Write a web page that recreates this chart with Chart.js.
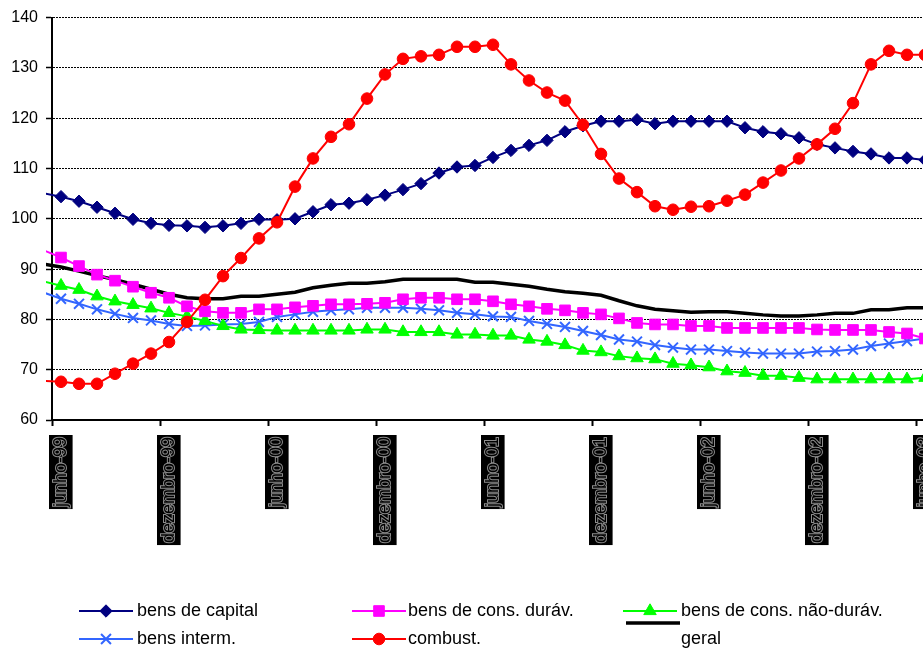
<!DOCTYPE html>
<html>
<head>
<meta charset="utf-8">
<script src="https://cdn.jsdelivr.net/npm/chart.js@4/dist/chart.umd.min.js"></script>
<style>
  html, body { margin: 0; padding: 0; overflow: hidden; background: #fff; }
  canvas { display: block; }
</style>
</head>
<body>
<canvas id="chart" width="961" height="649"></canvas>
<script>
// Monthly index series, maio-99 .. junho-03
const tickLabels = ['junho-99', 'dezembro-99', 'junho-00', 'dezembro-00', 'junho-01',
                    'dezembro-01', 'junho-02', 'dezembro-02', 'junho-03'];

const capital = [105.1, 104.4, 103.5, 102.3, 101.1, 99.9, 99.1, 98.7, 98.6, 98.3,
                 98.6, 99.1, 99.9, 99.8, 100.0, 101.4, 102.8, 103.1, 103.8, 104.7,
                 105.8, 107.0, 109.1, 110.3, 110.6, 112.2, 113.6, 114.6, 115.6, 117.3,
                 118.5, 119.4, 119.4, 119.7, 118.9, 119.4, 119.4, 119.4, 119.4, 118.1,
                 117.3, 116.9, 116.1, 114.8, 114.1, 113.4, 112.9, 112.1, 112.1, 111.7];

const duravel = [93.8, 92.3, 90.6, 88.9, 87.7, 86.5, 85.3, 84.3, 82.6, 81.6,
                 81.3, 81.3, 82.0, 82.0, 82.4, 82.7, 83.0, 83.0, 83.1, 83.3,
                 84.0, 84.3, 84.3, 84.0, 84.0, 83.6, 83.0, 82.6, 82.1, 81.8,
                 81.3, 81.0, 80.2, 79.3, 79.0, 79.0, 78.7, 78.7, 78.3, 78.3,
                 78.3, 78.3, 78.3, 78.0, 77.9, 77.9, 77.9, 77.5, 77.2, 76.2];

const naoDuravel = [87.6, 86.7, 85.9, 84.6, 83.6, 82.9, 82.2, 81.3, 80.6, 79.7,
                    78.7, 78.0, 77.9, 77.8, 77.8, 77.8, 77.8, 77.8, 78.0, 78.0,
                    77.5, 77.5, 77.5, 77.0, 77.0, 76.8, 76.8, 76.0, 75.6, 74.9,
                    73.8, 73.5, 72.7, 72.3, 72.1, 71.2, 70.9, 70.5, 69.7, 69.4,
                    68.8, 68.8, 68.4, 68.1, 68.1, 68.1, 68.1, 68.1, 68.1, 68.4];

const interm = [85.4, 84.1, 83.1, 82.0, 81.1, 80.3, 79.8, 79.1, 78.7, 78.8,
                79.0, 79.1, 79.5, 80.5, 81.0, 81.5, 81.8, 82.0, 82.3, 82.3,
                82.3, 82.1, 81.8, 81.3, 81.0, 80.6, 80.5, 79.7, 79.1, 78.5,
                77.7, 76.9, 76.0, 75.6, 74.9, 74.4, 74.0, 74.0, 73.7, 73.4,
                73.2, 73.2, 73.2, 73.6, 73.7, 74.0, 74.7, 75.2, 75.7, 76.2];

const combust = [67.8, 67.6, 67.2, 67.2, 69.2, 71.2, 73.2, 75.5, 79.5, 83.9,
                 88.6, 92.2, 96.1, 99.3, 106.4, 112.0, 116.3, 118.8, 123.9, 128.7,
                 131.8, 132.3, 132.6, 134.2, 134.2, 134.6, 130.7, 127.5, 125.1, 123.5,
                 118.7, 112.9, 108.0, 105.3, 102.5, 101.8, 102.4, 102.5, 103.6, 104.8,
                 107.2, 109.6, 112.0, 114.8, 117.9, 123.0, 130.7, 133.4, 132.6, 132.6];

const geral = [91.0, 90.4, 89.6, 88.7, 87.9, 87.0, 86.0, 85.0, 84.3, 84.1,
               84.1, 84.6, 84.6, 85.0, 85.4, 86.3, 86.8, 87.2, 87.2, 87.5,
               88.0, 88.0, 88.0, 88.0, 87.4, 87.4, 87.0, 86.6, 86.0, 85.5,
               85.2, 84.8, 83.7, 82.7, 82.0, 81.7, 81.4, 81.5, 81.5, 81.2,
               80.9, 80.7, 80.7, 80.9, 81.2, 81.2, 81.9, 81.9, 82.3, 82.3];

// month k sits in the middle of its slot; junho-99 tick is at 0
const toPoints = arr => arr.map((v, k) => ({ x: k - 0.5, y: v }));
const FONT = "'Liberation Sans', Arial, sans-serif";

function series(label, values, color, style, radius, lineWidth, markerBorder) {
  return {
    label,
    data: toPoints(values),
    borderColor: color,
    backgroundColor: color,
    borderWidth: lineWidth,
    pointStyle: style || false,
    markerRadius: radius,
    pointRadius: c => (style && c.raw && c.raw.x >= 0) ? radius : 0,
    pointHoverRadius: c => (style && c.raw && c.raw.x >= 0) ? radius : 0,
    pointBackgroundColor: color,
    pointBorderColor: color,
    pointBorderWidth: markerBorder,
    tension: 0,
    clip: { left: 6, top: 20, right: 0, bottom: 20 }
  };
}

const datasets = [
  series('combust.', combust, '#ff0000', 'circle', 5.8, 2, 1),
  series('bens de capital', capital, '#000080', 'rectRot', 6.2, 2, 1),
  series('bens de cons. duráv.', duravel, '#ff00ff', 'rect', 7.5, 2, 1),
  series('bens de cons. não-duráv.', naoDuravel, '#00ff00', 'triangle', 7.2, 2, 1),
  series('bens interm.', interm, '#3366ff', 'crossRot', 7, 2, 2),
  series('geral', geral, '#000000', null, 0, 3.5, 0)
];

// bottom legend, two rows of three entries
const legendSlots = [
  { label: 'bens de capital',          x: 79,  lineY: 611, textX: 137, textY: 611 },
  { label: 'bens de cons. duráv.',     x: 352, lineY: 611, textX: 408, textY: 611 },
  { label: 'bens de cons. não-duráv.', x: 623, lineY: 611, textX: 681, textY: 611 },
  { label: 'bens interm.',             x: 79,  lineY: 639, textX: 137, textY: 639 },
  { label: 'combust.',                 x: 352, lineY: 639, textX: 408, textY: 639 },
  { label: 'geral',                    x: 626, lineY: 623, textX: 681, textY: 639 }
];

const bottomLegend = {
  id: 'bottomLegend',
  afterDraw(chart) {
    const ctx = chart.ctx;
    ctx.save();
    legendSlots.forEach(slot => {
      const ds = chart.data.datasets.find(d => d.label === slot.label);
      const len = 54;
      ctx.setLineDash([]);
      ctx.strokeStyle = ds.borderColor;
      ctx.lineWidth = ds.borderWidth;
      ctx.beginPath();
      ctx.moveTo(slot.x, slot.lineY);
      ctx.lineTo(slot.x + len, slot.lineY);
      ctx.stroke();
      if (ds.pointStyle) {
        ctx.fillStyle = ds.pointBackgroundColor;
        ctx.strokeStyle = ds.pointBorderColor;
        ctx.lineWidth = ds.pointBorderWidth;
        Chart.helpers.drawPoint(ctx, {
          pointStyle: ds.pointStyle, radius: ds.markerRadius, rotation: 0,
          borderWidth: ds.pointBorderWidth
        }, slot.x + len / 2, slot.lineY);
      }
      ctx.fillStyle = '#000';
      ctx.font = '18px ' + FONT;
      ctx.textBaseline = 'middle';
      ctx.textAlign = 'left';
      ctx.fillText(ds.label, slot.textX, slot.textY);
    });
    ctx.restore();
  }
};

new Chart(document.getElementById('chart'), {
  type: 'line',
  data: { datasets },
  options: {
    responsive: false,
    animation: false,
    events: [],
    layout: { padding: { top: 16, left: 0, right: 0, bottom: 0 } },
    plugins: { legend: { display: false }, tooltip: { enabled: false } },
    scales: {
      x: {
        type: 'linear',
        min: 0,
        max: 50,
        afterFit: s => { s.height = 229; },
        afterBuildTicks: s => { s.ticks = tickLabels.map((_, k) => ({ value: k * 6 })); },
        border: { display: true, color: '#000', width: 2 },
        grid: { drawOnChartArea: false, drawTicks: true, tickLength: 6, tickColor: '#000', tickWidth: 2 },
        ticks: {
          autoSkip: false,
          minRotation: 90,
          maxRotation: 90,
          padding: 11,
          labelOffset: -2,
          callback: v => tickLabels[Math.round(v / 6)] || '',
          font: { family: FONT, size: 18 },
          color: '#000',
          textStrokeColor: '#8c8c8c',
          textStrokeWidth: 2,
          showLabelBackdrop: true,
          backdropColor: '#000',
          backdropPadding: { top: 1, bottom: 1, left: 2, right: 2 }
        }
      },
      y: {
        min: 60,
        max: 140,
        afterFit: s => { s.width = 52; },
        ticks: { stepSize: 10, padding: 8, color: '#000', font: { family: FONT, size: 16 } },
        grid: { color: '#000', lineWidth: 1, tickLength: 6, tickColor: '#000', tickWidth: 1.5, tickBorderDash: [] },
        border: { display: true, color: '#000', width: 2, dash: [2, 1] }
      }
    }
  },
  plugins: [bottomLegend]
});
</script>
</body>
</html>
